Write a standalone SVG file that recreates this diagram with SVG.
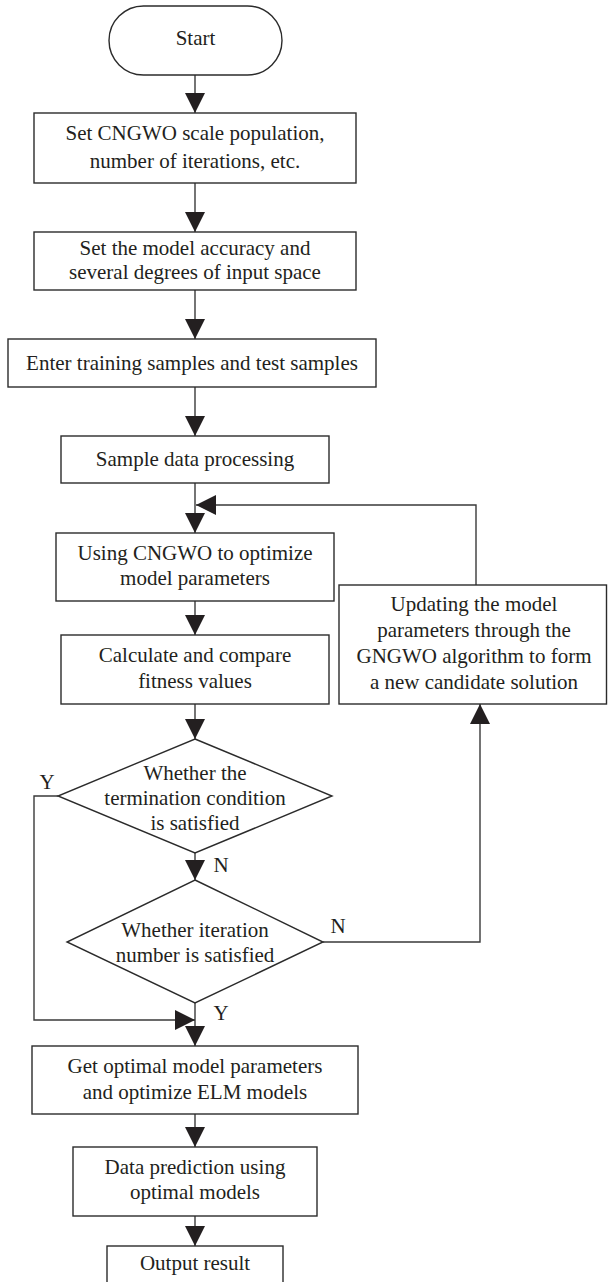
<svg xmlns="http://www.w3.org/2000/svg" width="608" height="1282" viewBox="0 0 608 1282">
<defs>
<style>
.box{fill:#fff;stroke:#2b2b2b;stroke-width:1.4}
.t{font-family:"Liberation Serif","Times New Roman",serif;font-size:21px;fill:#231f20;text-anchor:middle}
.c{fill:none;stroke:#3a3a3a;stroke-width:1.4}
</style>
<marker id="ah" markerUnits="userSpaceOnUse" markerWidth="20" markerHeight="20" viewBox="0 0 20 20" refX="20" refY="10" orient="auto">
<path d="M0,0 L20,10 L0,20 z" fill="#231f20"/>
</marker>
</defs>
<rect width="608" height="1282" fill="#fff"/>
<g id="connectors">
<line class="c" x1="195" y1="75" x2="195" y2="113" marker-end="url(#ah)"/>
<line class="c" x1="195" y1="183" x2="195" y2="232" marker-end="url(#ah)"/>
<line class="c" x1="195" y1="290" x2="195" y2="339" marker-end="url(#ah)"/>
<line class="c" x1="195" y1="387" x2="195" y2="436" marker-end="url(#ah)"/>
<line class="c" x1="195" y1="483" x2="195" y2="533" marker-end="url(#ah)"/>
<polyline class="c" points="476,585 476,505 196,505" marker-end="url(#ah)"/>
<line class="c" x1="195" y1="601" x2="195" y2="635" marker-end="url(#ah)"/>
<line class="c" x1="195" y1="704" x2="195" y2="739" marker-end="url(#ah)"/>
<line class="c" x1="195" y1="853" x2="195" y2="880" marker-end="url(#ah)"/>
<line class="c" x1="195" y1="1003" x2="195" y2="1046" marker-end="url(#ah)"/>
<polyline class="c" points="58,796 34,796 34,1020 195,1020" marker-end="url(#ah)"/>
<polyline class="c" points="323,942 480,942 480,704" marker-end="url(#ah)"/>
<line class="c" x1="195" y1="1114" x2="195" y2="1147" marker-end="url(#ah)"/>
<line class="c" x1="195" y1="1216" x2="195" y2="1246" marker-end="url(#ah)"/>
<text class="t" x="47" y="789">Y</text>
<text class="t" x="221" y="872">N</text>
<text class="t" x="338" y="933">N</text>
<text class="t" x="221" y="1020">Y</text>
</g>
<g id="start">
<rect class="box" x="109" y="6" width="173" height="69" rx="34.5" ry="34.5"/>
<text class="t" x="195.5" y="45">Start</text>
</g>
<g id="set-cngwo">
<rect class="box" x="34" y="113" width="322" height="70"/>
<text class="t" x="195" y="140">Set CNGWO scale population,</text>
<text class="t" x="195" y="168">number of iterations, etc.</text>
</g>
<g id="set-accuracy">
<rect class="box" x="34" y="232" width="322" height="58"/>
<text class="t" x="195" y="255">Set the model accuracy and</text>
<text class="t" x="195" y="279">several degrees of input space</text>
</g>
<g id="enter-samples">
<rect class="box" x="8" y="339" width="368" height="48"/>
<text class="t" x="192" y="370">Enter training samples and test samples</text>
</g>
<g id="sample-processing">
<rect class="box" x="61" y="436" width="268" height="47"/>
<text class="t" x="195" y="466">Sample data processing</text>
</g>
<g id="using-cngwo">
<rect class="box" x="56" y="533" width="278" height="68"/>
<text class="t" x="195" y="560">Using CNGWO to optimize</text>
<text class="t" x="195" y="585">model parameters</text>
</g>
<g id="calculate">
<rect class="box" x="61" y="635" width="268" height="69"/>
<text class="t" x="195" y="662">Calculate and compare</text>
<text class="t" x="195" y="688">fitness values</text>
</g>
<g id="updating">
<rect class="box" x="339" y="585" width="267.5" height="119"/>
<text class="t" x="474" y="611">Updating the model</text>
<text class="t" x="474" y="637">parameters through the</text>
<text class="t" x="474" y="663">GNGWO algorithm to form</text>
<text class="t" x="474" y="689">a new candidate solution</text>
</g>
<g id="termination">
<polygon class="box" points="195,739 332,796 195,853 58,796"/>
<text class="t" x="195" y="780">Whether the</text>
<text class="t" x="195" y="805">termination condition</text>
<text class="t" x="195" y="830">is satisfied</text>
</g>
<g id="iteration">
<polygon class="box" points="195,880 323,942 195,1003 67,942"/>
<text class="t" x="195" y="937">Whether iteration</text>
<text class="t" x="195" y="962">number is satisfied</text>
</g>
<g id="get-optimal">
<rect class="box" x="32" y="1046" width="326" height="68"/>
<text class="t" x="195" y="1073">Get optimal model parameters</text>
<text class="t" x="195" y="1099">and optimize ELM models</text>
</g>
<g id="data-prediction">
<rect class="box" x="73" y="1147" width="244" height="69"/>
<text class="t" x="195" y="1174">Data prediction using</text>
<text class="t" x="195" y="1199">optimal models</text>
</g>
<g id="output">
<rect class="box" x="107" y="1246" width="176" height="44"/>
<text class="t" x="195" y="1270">Output result</text>
</g>
</svg>
